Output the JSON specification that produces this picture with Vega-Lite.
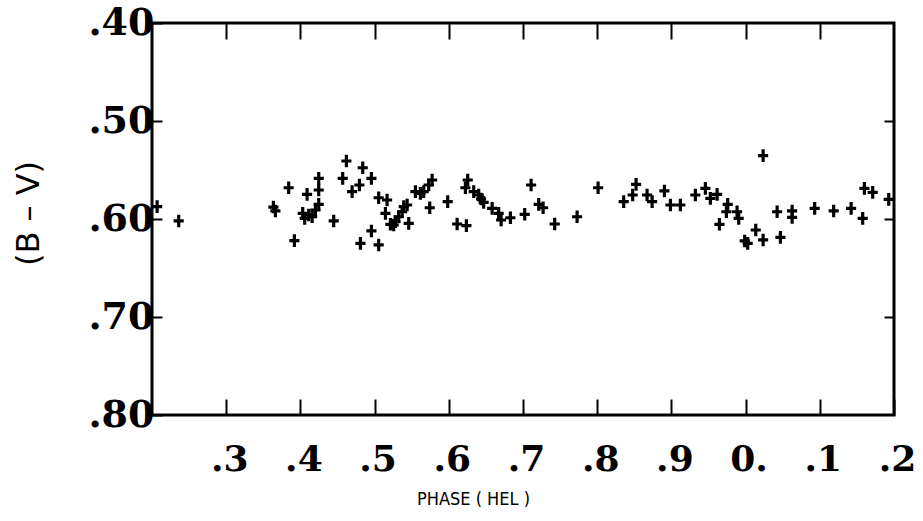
{
  "$schema": "https://vega.github.io/schema/vega-lite/v6.json",
  "width": 742,
  "height": 392,
  "autosize": {"type": "none"},
  "padding": {"left": 152, "top": 23, "right": 29, "bottom": 106},
  "background": "white",
  "config": {"view": {"stroke": "black", "strokeWidth": 3}},
  "data": {"values": [
    {"phase": 0.2069, "bv": 0.5874}, {"phase": 0.236, "bv": 0.602},
    {"phase": 0.3636, "bv": 0.5878}, {"phase": 0.3663, "bv": 0.5918},
    {"phase": 0.3842, "bv": 0.5681}, {"phase": 0.3919, "bv": 0.6221},
    {"phase": 0.409, "bv": 0.5748}, {"phase": 0.4247, "bv": 0.5585},
    {"phase": 0.4247, "bv": 0.5704}, {"phase": 0.4247, "bv": 0.585},
    {"phase": 0.4031, "bv": 0.5942}, {"phase": 0.4058, "bv": 0.5993},
    {"phase": 0.4158, "bv": 0.5977}, {"phase": 0.4202, "bv": 0.5908},
    {"phase": 0.4112, "bv": 0.5959}, {"phase": 0.4449, "bv": 0.602},
    {"phase": 0.462, "bv": 0.5408}, {"phase": 0.457, "bv": 0.5585},
    {"phase": 0.484, "bv": 0.5477}, {"phase": 0.4957, "bv": 0.5585},
    {"phase": 0.4795, "bv": 0.5653}, {"phase": 0.4697, "bv": 0.5721},
    {"phase": 0.5055, "bv": 0.5783}, {"phase": 0.5168, "bv": 0.5806},
    {"phase": 0.5146, "bv": 0.5942}, {"phase": 0.5213, "bv": 0.6054},
    {"phase": 0.4957, "bv": 0.6122}, {"phase": 0.4809, "bv": 0.6248},
    {"phase": 0.5055, "bv": 0.6265}, {"phase": 0.528, "bv": 0.6028},
    {"phase": 0.5257, "bv": 0.6061}, {"phase": 0.5325, "bv": 0.5977},
    {"phase": 0.5371, "bv": 0.5926}, {"phase": 0.5438, "bv": 0.5857},
    {"phase": 0.5393, "bv": 0.5874}, {"phase": 0.546, "bv": 0.6044},
    {"phase": 0.555, "bv": 0.5721}, {"phase": 0.5617, "bv": 0.5738},
    {"phase": 0.5662, "bv": 0.5721}, {"phase": 0.5729, "bv": 0.5653},
    {"phase": 0.5775, "bv": 0.5602}, {"phase": 0.5743, "bv": 0.5885},
    {"phase": 0.5985, "bv": 0.5823}, {"phase": 0.6112, "bv": 0.6051},
    {"phase": 0.6237, "bv": 0.6068}, {"phase": 0.6255, "bv": 0.5602},
    {"phase": 0.6224, "bv": 0.5681}, {"phase": 0.6336, "bv": 0.5721},
    {"phase": 0.6403, "bv": 0.5755}, {"phase": 0.6435, "bv": 0.5796},
    {"phase": 0.647, "bv": 0.583}, {"phase": 0.6584, "bv": 0.5891},
    {"phase": 0.6672, "bv": 0.5942}, {"phase": 0.6705, "bv": 0.601},
    {"phase": 0.683, "bv": 0.5987}, {"phase": 0.7023, "bv": 0.5952},
    {"phase": 0.7109, "bv": 0.5653}, {"phase": 0.7212, "bv": 0.585},
    {"phase": 0.7271, "bv": 0.5885}, {"phase": 0.7427, "bv": 0.6051},
    {"phase": 0.7729, "bv": 0.5977}, {"phase": 0.8012, "bv": 0.5681},
    {"phase": 0.8357, "bv": 0.5823}, {"phase": 0.8478, "bv": 0.5755},
    {"phase": 0.8524, "bv": 0.5646}, {"phase": 0.8672, "bv": 0.5755},
    {"phase": 0.874, "bv": 0.5823}, {"phase": 0.8906, "bv": 0.5714},
    {"phase": 0.8987, "bv": 0.5857}, {"phase": 0.9121, "bv": 0.5857},
    {"phase": 0.9323, "bv": 0.5755}, {"phase": 0.9458, "bv": 0.5687},
    {"phase": 0.9525, "bv": 0.5789}, {"phase": 0.9616, "bv": 0.5748},
    {"phase": 0.9759, "bv": 0.585}, {"phase": 0.9741, "bv": 0.5926},
    {"phase": 0.9885, "bv": 0.5926}, {"phase": 0.9907, "bv": 0.5993},
    {"phase": 0.9647, "bv": 0.6054}, {"phase": 1.0137, "bv": 0.6112},
    {"phase": 0.9988, "bv": 0.6224}, {"phase": 1.0028, "bv": 0.6248},
    {"phase": 1.0236, "bv": 0.6214}, {"phase": 1.0236, "bv": 0.5354},
    {"phase": 1.0425, "bv": 0.5926}, {"phase": 1.0469, "bv": 0.6187},
    {"phase": 1.0627, "bv": 0.5918}, {"phase": 1.0627, "bv": 0.5983},
    {"phase": 1.0931, "bv": 0.5891}, {"phase": 1.1187, "bv": 0.5918},
    {"phase": 1.1422, "bv": 0.5891}, {"phase": 1.1578, "bv": 0.5993},
    {"phase": 1.1601, "bv": 0.5687}, {"phase": 1.1713, "bv": 0.5728},
    {"phase": 1.1929, "bv": 0.5799}
  ]},
  "layer": [
    {
      "mark": {"type": "point", "shape": "M-0.8,0H0.8M0,-1V1", "filled": false, "stroke": "black", "strokeWidth": 3.2, "size": 160, "opacity": 1},
      "encoding": {
        "x": {
          "field": "phase", "type": "quantitative",
          "scale": {"domain": [0.2, 1.2], "nice": false, "zero": false},
          "axis": {
            "orient": "bottom",
            "values": [0.3, 0.4, 0.5, 0.6, 0.7, 0.8, 0.9, 1.0, 1.1, 1.2],
            "labelExpr": "abs(datum.value - 1) < 0.05 ? '0.' : '.' + (round(datum.value * 10) % 10)",
            "domain": false, "grid": false,
            "ticks": true, "tickSize": -16, "tickColor": "black", "tickWidth": 2,
            "labelFont": "DejaVu Serif", "labelFontWeight": "bold", "labelFontSize": 36,
            "labelColor": "black", "labelPadding": 43, "labelFlush": false, "labelOffset": 3,
            "title": "PHASE ( HEL )",
            "titleFont": "DejaVu Sans Condensed", "titleFontWeight": "normal", "titleFontSize": 18,
            "titleColor": "black", "titleX": 321, "titleY": 89, "titleAnchor": "middle", "titleAlign": "center", "titleBaseline": "alphabetic"
          }
        },
        "y": {
          "field": "bv", "type": "quantitative",
          "scale": {"domain": [0.4, 0.8], "reverse": true, "nice": false, "zero": false},
          "axis": {
            "orient": "left",
            "values": [0.4, 0.5, 0.6, 0.7, 0.8],
            "labelExpr": "'.' + round(datum.value * 100)",
            "domain": false, "grid": false,
            "ticks": true, "tickSize": -10, "tickColor": "black", "tickWidth": 2,
            "labelFont": "DejaVu Serif", "labelFontWeight": "bold", "labelFontSize": 38,
            "labelColor": "black", "labelPadding": 8, "labelFlush": false, "labelBaseline": "middle",
            "title": "(B – V)",
            "titleFont": "DejaVu Sans", "titleFontWeight": "normal", "titleFontSize": 32,
            "titleColor": "black", "titleX": -124, "titleY": 190, "titleAngle": -90, "titleAlign": "center", "titleBaseline": "middle"
          }
        }
      }
    },
    {
      "mark": {"type": "point", "opacity": 0},
      "encoding": {
        "x": {
          "field": "phase", "type": "quantitative",
          "axis": {"orient": "top", "values": [0.3, 0.4, 0.5, 0.6, 0.7, 0.8, 0.9, 1.0, 1.1], "labels": false, "domain": false, "grid": false, "tickSize": -16, "tickColor": "black", "tickWidth": 2, "title": null}
        },
        "y": {
          "field": "bv", "type": "quantitative",
          "axis": {"orient": "right", "values": [0.5, 0.6, 0.7], "labels": false, "domain": false, "grid": false, "tickSize": -10, "tickColor": "black", "tickWidth": 2, "title": null}
        }
      }
    }
  ],
  "resolve": {"axis": {"x": "independent", "y": "independent"}}
}
